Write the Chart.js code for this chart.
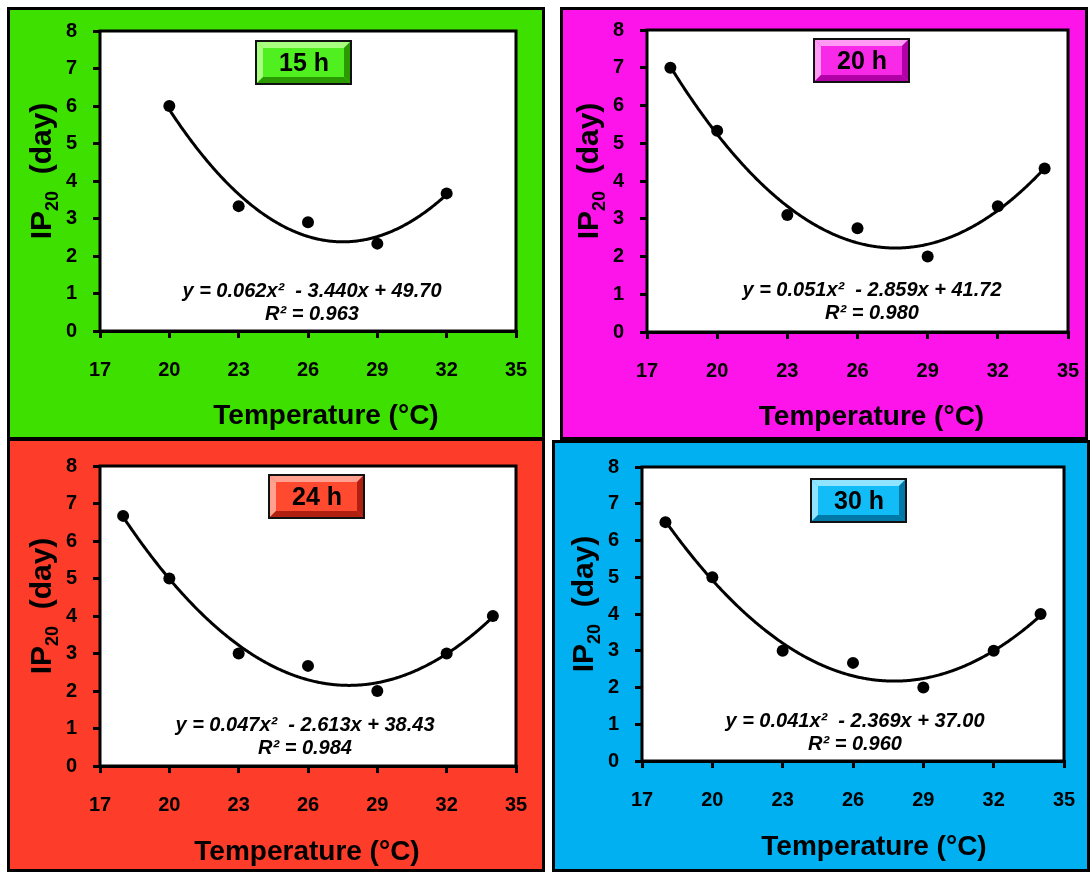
<!DOCTYPE html>
<html lang="en">
<head>
    <meta charset="UTF-8">
    <title>IP20 vs Temperature</title>
    <script src="https://cdn.jsdelivr.net/npm/chart.js"></script>
    <style>
        body { margin: 0; background: #fff; width: 1092px; height: 872px; position: relative; overflow: hidden; }
        .panel { position: absolute; border: 3px solid #000; }
        .panel canvas { display: block; }
    </style>
</head>
<body>

    <div class="panel" id="p1" style="left:7px; top:7px; width:532px; height:427px; background:#3ee000;"><canvas id="c1" width="532" height="427"></canvas></div>
    <div class="panel" id="p2" style="left:560px; top:7px; width:522px; height:427px; background:#fc14ea;"><canvas id="c2" width="522" height="427"></canvas></div>
    <div class="panel" id="p3" style="left:7px; top:438px; width:532px; height:428px; background:#fd3c2a;"><canvas id="c3" width="532" height="428"></canvas></div>
    <div class="panel" id="p4" style="left:552px; top:440px; width:532px; height:426px; background:#00b0f0;"><canvas id="c4" width="532" height="426"></canvas></div>

    <script>
        // data
        const xTicks = [17, 20, 23, 26, 29, 32, 35];
        const yTicks = [0, 1, 2, 3, 4, 5, 6, 7, 8];

        const temp15 = [20, 23, 26, 29, 32];
        const ip15 = [6.0, 3.33, 2.9, 2.33, 3.67];

        const temp20 = [18, 20, 23, 26, 29, 32, 34];
        const ip20 = [7.0, 5.33, 3.1, 2.75, 2.0, 3.33, 4.33];

        const temp24 = [18, 20, 23, 26, 29, 32, 34];
        const ip24 = [6.67, 5.0, 3.0, 2.67, 2.0, 3.0, 4.0];

        const temp30 = [18, 20, 23, 26, 29, 32, 34];
        const ip30 = [6.5, 5.0, 3.0, 2.67, 2.0, 3.0, 4.0];

        const panelLabels = ['15 h', '20 h', '24 h', '30 h'];
        const equations = [
            'y = 0.062x\u00b2  - 3.440x + 49.70',
            'y = 0.051x\u00b2  - 2.859x + 41.72',
            'y = 0.047x\u00b2  - 2.613x + 38.43',
            'y = 0.041x\u00b2  - 2.369x + 37.00'
        ];
        const r2Labels = ['R\u00b2 = 0.963', 'R\u00b2 = 0.980', 'R\u00b2 = 0.984', 'R\u00b2 = 0.960'];

        const FONT = '"Liberation Sans", Arial, sans-serif';

        // least squares quadratic (what the spreadsheet trendline does)
        function quadFit(xs, ys) {
            let s = [0, 0, 0, 0, 0], t = [0, 0, 0];
            xs.forEach((x, i) => {
                for (let k = 0; k < 5; k++) s[k] += Math.pow(x, k);
                for (let k = 0; k < 3; k++) t[k] += ys[i] * Math.pow(x, k);
            });
            const m = [[s[0], s[1], s[2], t[0]], [s[1], s[2], s[3], t[1]], [s[2], s[3], s[4], t[2]]];
            for (let i = 0; i < 3; i++) {
                for (let j = i + 1; j < 3; j++) {
                    const f = m[j][i] / m[i][i];
                    for (let k = i; k < 4; k++) m[j][k] -= f * m[i][k];
                }
            }
            const c = [0, 0, 0];
            for (let i = 2; i >= 0; i--) {
                let v = m[i][3];
                for (let k = i + 1; k < 3; k++) v -= m[i][k] * c[k];
                c[i] = v / m[i][i];
            }
            return c;
        }

        function bevelBox(ctx, x, y, w, h, face, light, dark) {
            const b = 6;
            ctx.fillStyle = '#111';
            ctx.fillRect(x - 2, y - 2, w + 4, h + 4);
            ctx.fillStyle = face;
            ctx.fillRect(x, y, w, h);
            const poly = (pts, col) => {
                ctx.fillStyle = col;
                ctx.beginPath();
                ctx.moveTo(pts[0][0], pts[0][1]);
                pts.slice(1).forEach(p => ctx.lineTo(p[0], p[1]));
                ctx.closePath();
                ctx.fill();
            };
            poly([[x, y], [x + w, y], [x + w - b, y + b], [x + b, y + b]], light);
            poly([[x, y], [x + b, y + b], [x + b, y + h - b], [x, y + h]], light);
            poly([[x + w, y], [x + w, y + h], [x + w - b, y + h - b], [x + w - b, y + b]], dark);
            poly([[x, y + h], [x + b, y + h - b], [x + w - b, y + h - b], [x + w, y + h]], dark);
        }

        const panelPlugin = {
            id: 'panelDecor',
            beforeDatasetsDraw(chart, args, opts) {
                const { ctx, chartArea: a, scales } = chart;
                const g = opts.geom;
                ctx.save();
                ctx.fillStyle = '#fff';
                ctx.fillRect(a.left, a.top, a.right - a.left, a.bottom - a.top);
                ctx.strokeStyle = '#000';
                ctx.lineWidth = 3;
                ctx.strokeRect(a.left, a.top, a.right - a.left, a.bottom - a.top);

                // trendline
                const c = quadFit(opts.xs, opts.ys);
                const p0 = scales.x.getPixelForValue(Math.min(...opts.xs));
                const p1 = scales.x.getPixelForValue(Math.max(...opts.xs));
                ctx.beginPath();
                for (let px = p0; px <= p1 + 0.1; px += 1) {
                    const xv = scales.x.getValueForPixel(px);
                    const py = scales.y.getPixelForValue(c[0] + c[1] * xv + c[2] * xv * xv);
                    if (px === p0) ctx.moveTo(px, py); else ctx.lineTo(px, py);
                }
                ctx.lineWidth = 3;
                ctx.lineJoin = 'round';
                ctx.stroke();

                // equation text
                ctx.fillStyle = '#000';
                ctx.textAlign = 'center';
                ctx.textBaseline = 'middle';
                ctx.font = 'italic bold 20px ' + FONT;
                ctx.fillText(opts.eq, a.left + g.eqX, a.bottom - g.eqY);
                ctx.fillText(opts.r2, a.left + g.eqX, a.bottom - g.eqY + 23);
                ctx.restore();
            },
            afterDraw(chart, args, opts) {
                const { ctx, chartArea: a } = chart;
                const g = opts.geom;
                ctx.save();
                // label box
                bevelBox(ctx, a.left + g.boxX, a.top + g.boxY, 93, 41, opts.box[0], opts.box[1], opts.box[2]);
                ctx.fillStyle = '#000';
                ctx.font = 'bold 25px ' + FONT;
                ctx.textAlign = 'center';
                ctx.textBaseline = 'middle';
                ctx.fillText(opts.label, a.left + g.boxX + 47, a.top + g.boxY + 22);

                // x title
                ctx.font = 'bold 28px ' + FONT;
                ctx.fillText('Temperature (\u00b0C)', (a.left + a.right) / 2 + g.titleDx, a.bottom + g.titleDy);

                // y title with subscript
                ctx.translate(a.left - 60, (a.top + a.bottom) / 2);
                ctx.rotate(-Math.PI / 2);
                ctx.textAlign = 'left';
                ctx.textBaseline = 'alphabetic';
                const big = 'bold 30px ' + FONT, small = 'bold 18px ' + FONT;
                ctx.font = big; const w1 = ctx.measureText('IP').width;
                ctx.font = small; const w2 = ctx.measureText('20').width;
                ctx.font = big; const w3 = ctx.measureText('  (day)').width;
                let x = -(w1 + w2 + w3) / 2 + 10;
                const base = 11;
                ctx.font = big; ctx.fillText('IP', x, base); x += w1;
                ctx.font = small; ctx.fillText('20', x, base + 7); x += w2;
                ctx.font = big; ctx.fillText('  (day)', x, base);
                ctx.restore();
            }
        };

        // keep tick label padding from pushing the plot area around
        function noPad(s) {
            s.paddingLeft = 0; s.paddingRight = 0; s.paddingTop = 0; s.paddingBottom = 0;
        }

        function makePanel(id, xs, ys, idx, geom, box) {
            const tickFont = { family: FONT, size: 20, weight: 'bold' };
            return new Chart(document.getElementById(id).getContext('2d'), {
                type: 'scatter',
                data: {
                    datasets: [{
                        data: xs.map((x, i) => ({ x: x, y: ys[i] })),
                        pointRadius: 6,
                        pointHoverRadius: 6,
                        backgroundColor: '#000',
                        borderColor: '#000',
                        borderWidth: 0
                    }]
                },
                options: {
                    responsive: false,
                    animation: false,
                    events: [],
                    layout: { padding: { top: geom.top, right: geom.right, left: 0, bottom: 0 } },
                    plugins: {
                        legend: { display: false },
                        tooltip: { enabled: false },
                        panelDecor: { geom: geom, xs: xs, ys: ys, eq: equations[idx], r2: r2Labels[idx], label: panelLabels[idx], box: box }
                    },
                    scales: {
                        x: {
                            type: 'linear', min: 17, max: 35,
                            afterBuildTicks: s => { s.ticks = xTicks.map(v => ({ value: v })); },
                            afterFit: s => { s.height = geom.xh; noPad(s); },
                            ticks: { font: tickFont, color: '#000', padding: 20, maxRotation: 0 },
                            grid: { drawOnChartArea: false, tickLength: 7, color: '#000', lineWidth: 3 },
                            border: { color: '#000', width: 3 }
                        },
                        y: {
                            min: 0, max: 8,
                            afterBuildTicks: s => { s.ticks = yTicks.map(v => ({ value: v })); },
                            afterFit: s => { s.width = geom.yw; noPad(s); },
                            ticks: { font: tickFont, color: '#000', padding: 16 },
                            grid: { drawOnChartArea: false, tickLength: 7, color: '#000', lineWidth: 3 },
                            border: { color: '#000', width: 3 }
                        }
                    }
                },
                plugins: [panelPlugin]
            });
        }

        makePanel('c1', temp15, ip15, 0,
            { top: 21, right: 26, yw: 90, xh: 106, eqX: 212, eqY: 40, boxX: 157, boxY: 11, titleDx: 18, titleDy: 85 },
            ['#50f020', '#a8ff80', '#2a9a00']);
        makePanel('c2', temp20, ip20, 1,
            { top: 20, right: 17, yw: 84, xh: 105, eqX: 225, eqY: 42, boxX: 168, boxY: 10, titleDx: 14, titleDy: 85 },
            ['#f82ae8', '#ff9af5', '#b000a6']);
        makePanel('c3', temp24, ip24, 2,
            { top: 25, right: 26, yw: 90, xh: 103, eqX: 205, eqY: 41, boxX: 170, boxY: 10, titleDx: -1, titleDy: 86 },
            ['#ff4a30', '#ffa090', '#b02010']);
        makePanel('c4', temp30, ip30, 3,
            { top: 24, right: 23, yw: 87, xh: 108, eqX: 213, eqY: 40, boxX: 170, boxY: 13, titleDx: 21, titleDy: 86 },
            ['#12bcf6', '#90e4ff', '#0078a8']);
    </script>

</body>
</html>
